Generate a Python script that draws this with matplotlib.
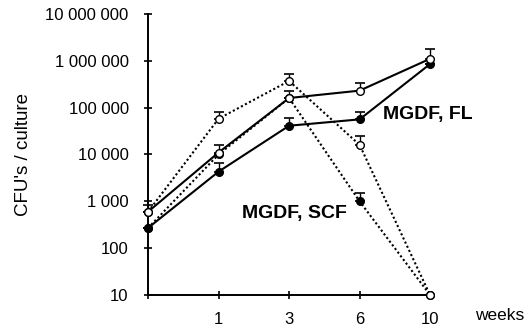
import numpy as np
import matplotlib.pyplot as plt
from matplotlib.ticker import FixedLocator, FixedFormatter

plt.rcParams['font.family'] = ['Liberation Sans', 'DejaVu Sans']

# 数据
weeks = ['', '1', '3', '6', '10']
fl_open = [600, 11000, 160000, 230000, 1100000]
fl_open_err = [250, 5000, 70000, 100000, 700000]
fl_filled = [270, 4300, 41000, 56000, 850000]
fl_filled_err = [0, 2200, 18000, 25000, 0]
scf_open = [600, 58000, 370000, 16000, 10]
scf_open_err = [0, 22000, 150000, 9000, 0]
scf_filled = [270, 10000, 160000, 1000, 10]
scf_filled_err = [0, 0, 0, 500, 0]

y_ticks = [10, 100, 1000, 10000, 100000, 1000000, 10000000]
y_labels = ['10', '100', '1 000', '10 000', '100 000', '1 000 000', '10 000 000']

fig = plt.figure(figsize=(5.29, 3.30), dpi=100)
ax = fig.add_axes([0.280, 0.106, 0.533, 0.852])
x = np.arange(len(weeks))

series = [
    (scf_filled, scf_filled_err, ':', 'black'),
    (scf_open, scf_open_err, ':', 'white'),
    (fl_filled, fl_filled_err, '-', 'black'),
    (fl_open, fl_open_err, '-', 'white'),
]
for vals, err, ls, fc in series:
    line, caps, bars = ax.errorbar(x, vals, yerr=[np.zeros(len(err)), err], fmt='o', ls=ls,
                                   color='black', mfc=fc, mec='black', ms=5.5,
                                   lw=1.5, elinewidth=1, capsize=3.5, capthick=1.2,
                                   clip_on=False, zorder=3)
    if ls == ':':
        line.set_dashes([1, 1.2])

ax.set_yscale('log')
ax.set_ylim(10, 1e7)
ax.set_xlim(0, 4)
ax.yaxis.set_major_locator(FixedLocator(y_ticks))
ax.yaxis.set_major_formatter(FixedFormatter(y_labels))
ax.yaxis.set_minor_locator(FixedLocator([]))
ax.set_xticks(x)
ax.set_xticklabels(weeks)
ax.tick_params(direction='inout', length=6, width=1.2, labelsize=12)
ax.tick_params(axis='y', pad=11)
ax.tick_params(axis='x', pad=9)
ax.spines['top'].set_visible(False)
ax.spines['right'].set_visible(False)
ax.spines['left'].set_linewidth(1.4)
ax.spines['bottom'].set_linewidth(1.4)

ax.set_ylabel("CFU's / culture", fontsize=13.5, labelpad=10)
fig.text(0.945, 0.045, 'weeks', fontsize=12.5, ha='center', va='center')
ax.text(3.97, 70000, 'MGDF, FL', fontsize=14, fontweight='bold', ha='center', va='center')
ax.text(2.08, 550, 'MGDF, SCF', fontsize=14, fontweight='bold', ha='center', va='center')

plt.savefig('out.png', dpi=100)
